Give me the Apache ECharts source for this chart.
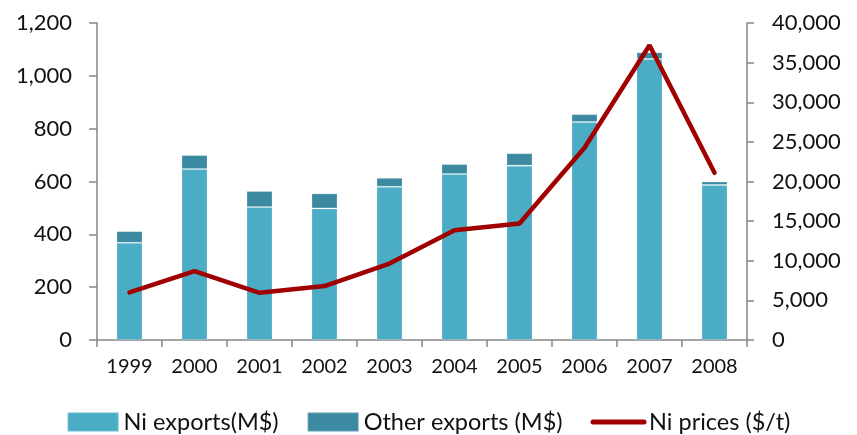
<!DOCTYPE html>
<html>
<head>
<meta charset="utf-8">
<script src="https://cdn.jsdelivr.net/npm/echarts@6/dist/echarts.min.js"></script>
<style>
  html, body { margin: 0; padding: 0; background: #fff; }
  #main { width: 857px; height: 435px; }
</style>
</head>
<body>
<div id="main"></div>
<script>
// data
const years = ['1999', '2000', '2001', '2002', '2003', '2004', '2005', '2006', '2007', '2008'];
const niExports = [368, 647, 503, 498, 580, 628, 660, 825, 1064, 587];
const otherExports = [44, 53, 61, 57, 34, 38, 47, 30, 25, 13];
const niPrices = [6000, 8700, 5950, 6800, 9650, 13850, 14700, 24250, 37200, 21100];

const axisGrey = '#868686';
const font = 'Lato, "Open Sans", sans-serif';

const myChart = echarts.init(document.getElementById('main'));

function fmt(v) {
    return Number(v).toLocaleString('en-US');
}

const option = {
    animation: false,
    textStyle: { fontFamily: font },
    grid: {
        left: 97,
        right: 110,
        top: 23,
        bottom: 95
    },
    legend: {
        top: 405,
        left: 'center',
        itemWidth: 51,
        itemHeight: 19,
        itemGap: 28,
        textStyle: { fontSize: 23.5, color: '#111', fontFamily: font },
        data: [
            { name: 'Ni exports(M$)', icon: 'rect' },
            { name: 'Other exports (M$)', icon: 'rect' },
            { name: 'Ni prices ($/t)', itemStyle: { opacity: 0 }, lineStyle: { width: 5 } }
        ]
    },
    xAxis: {
        type: 'category',
        data: years,
        boundaryGap: true,
        axisLine: { lineStyle: { color: axisGrey, width: 1.5 } },
        axisTick: { show: true, length: 7, lineStyle: { color: axisGrey, width: 1.5 } },
        axisLabel: { color: '#111', fontSize: 20, margin: 17, fontFamily: font }
    },
    yAxis: [{
            type: 'value',
            min: 0,
            max: 1200,
            interval: 200,
            position: 'left',
            splitLine: { show: false },
            axisLine: { show: true, lineStyle: { color: axisGrey, width: 1.5 } },
            axisTick: { show: true, length: 8, lineStyle: { color: axisGrey, width: 1.5 } },
            axisLabel: { color: '#111', fontSize: 22, margin: 25, formatter: fmt, fontFamily: font }
        },
        {
            type: 'value',
            min: 0,
            max: 40000,
            interval: 5000,
            position: 'right',
            splitLine: { show: false },
            axisLine: { show: true, lineStyle: { color: axisGrey, width: 1.5 } },
            axisTick: { show: true, length: 7, lineStyle: { color: axisGrey, width: 1.5 } },
            axisLabel: { color: '#111', fontSize: 22, margin: 25, formatter: fmt, fontFamily: font }
        }
    ],
    series: [{
            name: 'Ni exports(M$)',
            type: 'bar',
            stack: 'exp',
            barWidth: '40%',
            data: niExports,
            itemStyle: { color: '#4BACC6', borderColor: 'rgba(255,255,255,0.2)', borderWidth: 1 }
        },
        {
            name: 'Other exports (M$)',
            type: 'bar',
            stack: 'exp',
            data: otherExports,
            itemStyle: { color: '#3C8AA2', borderColor: 'rgba(255,255,255,0.2)', borderWidth: 1 }
        },
        {
            name: 'Ni prices ($/t)',
            type: 'line',
            yAxisIndex: 1,
            data: niPrices,
            symbol: 'none',
            lineStyle: { color: '#A00000', width: 4.5, cap: 'round' },
            itemStyle: { color: '#A00000' }
        }
    ]
};

myChart.setOption(option);
</script>
</body>
</html>
